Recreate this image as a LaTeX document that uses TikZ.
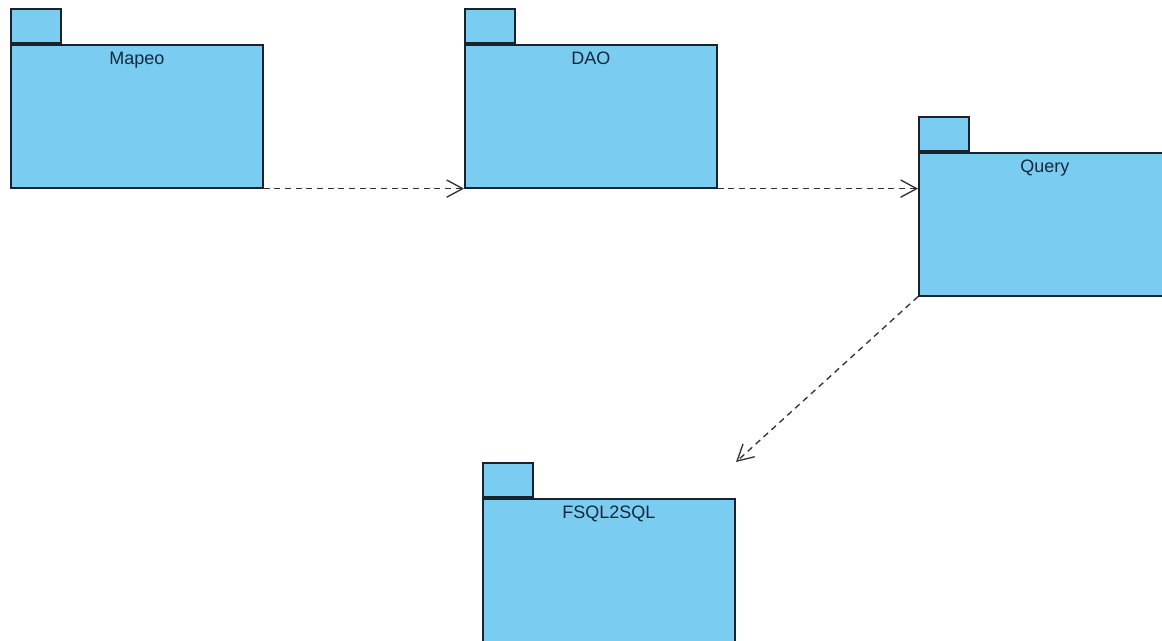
\documentclass[tikz,border=0pt]{standalone}
\usepackage{fontspec}
\setmainfont{Liberation Sans}
\usetikzlibrary{arrows.meta}
\definecolor{pkgblue}{RGB}{122,205,241}
\definecolor{pkgline}{RGB}{25,35,45}
\definecolor{pkgtext}{RGB}{20,40,60}
\definecolor{arrowgray}{RGB}{50,50,50}
\begin{document}
\begin{tikzpicture}[x=0.75pt,y=-0.75pt,
  pkgbody/.style={draw=pkgline,fill=pkgblue,line width=1.2pt,minimum width=189pt,minimum height=107.25pt,anchor=north west,inner sep=0pt},
  pkgtab/.style={draw=pkgline,fill=pkgblue,line width=1.2pt,minimum width=37.5pt,minimum height=25.5pt,anchor=south west,inner sep=0pt},
  pkglabel/.style={anchor=north,text=pkgtext,font=\fontsize{13.5}{16}\selectfont,inner sep=0pt},
  dep/.style={draw=arrowgray,line width=1pt,dash pattern=on 4.5pt off 3.5pt,-{Straight Barb[length=12pt,width=13pt,line width=1pt]}}]
\useasboundingbox (0,0) rectangle (1162,640);
\clip (0,0) rectangle (1162,640);
% Mapeo
\node[pkgtab] (mapeotab) at (10,44) {};
\node[pkgbody] (mapeo) at (10,44) {};
\node[pkglabel] (mapeol) at ([yshift=-6pt]mapeo.north) {Mapeo};
% DAO
\node[pkgtab] (daotab) at (464,44) {};
\node[pkgbody] (dao) at (464,44) {};
\node[pkglabel] (daol) at ([yshift=-6pt]dao.north) {DAO};
% Query
\node[pkgtab] (querytab) at (918,152) {};
\node[pkgbody] (query) at (918,152) {};
\node[pkglabel] (queryl) at ([yshift=-6pt]query.north) {Query};
% FSQL2SQL
\node[pkgtab] (fsqltab) at (482,498) {};
\node[pkgbody] (fsql) at (482,498) {};
\node[pkglabel] (fsqll) at ([yshift=-6pt]fsql.north) {FSQL2SQL};
% dependencies
\coordinate (fsqltip) at (736,462);
\draw[dep] (mapeo.south east) -- (dao.south west);
\draw[dep] (dao.south east) -- (dao.south east -| query.west);
\draw[dep] (query.south west) -- (fsqltip);
\end{tikzpicture}
\end{document}
